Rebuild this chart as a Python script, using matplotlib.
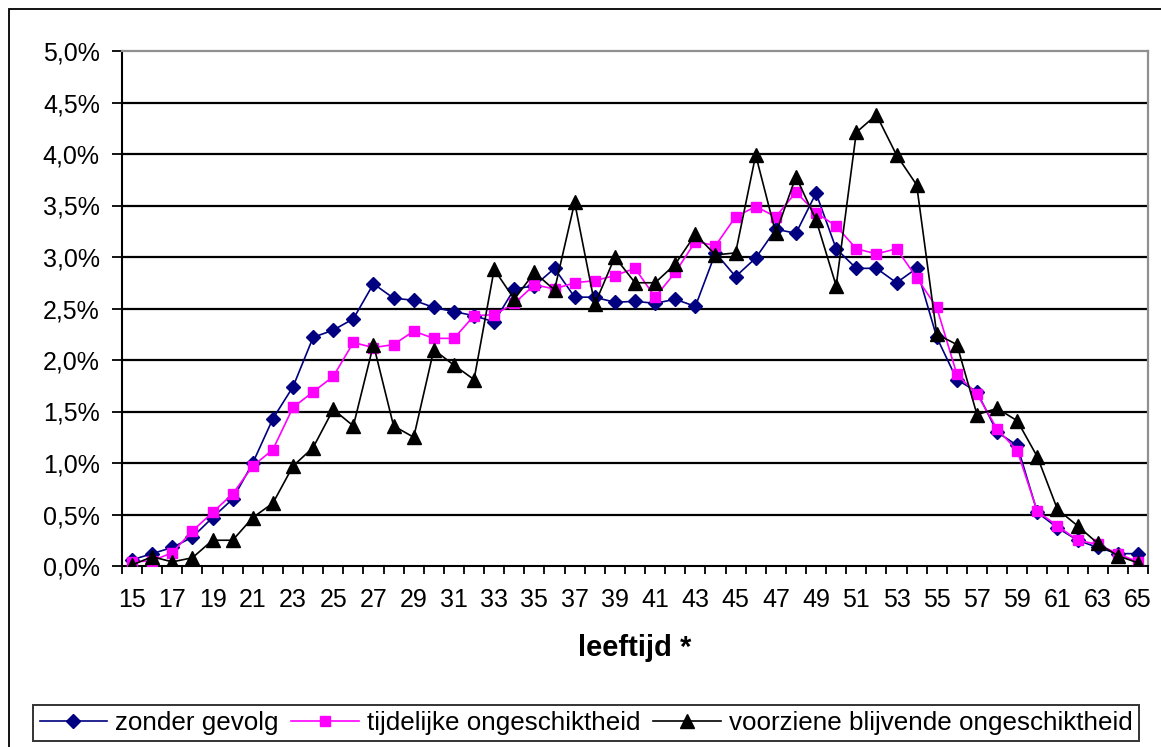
import numpy as np
import matplotlib
matplotlib.use("Agg")
import matplotlib.pyplot as plt
from matplotlib.patches import Rectangle
from matplotlib.lines import Line2D

plt.rcParams['font.family'] = ['Liberation Sans', 'DejaVu Sans']

# leeftijd 15..65
ages = list(range(15, 66))

zonder_gevolg = [0.06, 0.12, 0.18, 0.28, 0.47, 0.65, 1.00, 1.43, 1.74, 2.22,
                 2.29, 2.40, 2.74, 2.60, 2.58, 2.51, 2.47, 2.43, 2.37, 2.69,
                 2.72, 2.89, 2.61, 2.61, 2.56, 2.57, 2.55, 2.59, 2.52, 3.04,
                 2.81, 2.99, 3.27, 3.23, 3.62, 3.08, 2.89, 2.89, 2.75, 2.89,
                 2.22, 1.81, 1.69, 1.30, 1.17, 0.52, 0.37, 0.25, 0.18, 0.12,
                 0.12]

tijdelijk = [0.04, 0.05, 0.13, 0.34, 0.52, 0.70, 0.97, 1.13, 1.54, 1.69,
             1.84, 2.17, 2.12, 2.15, 2.28, 2.21, 2.21, 2.43, 2.44, 2.55,
             2.73, 2.69, 2.75, 2.77, 2.82, 2.89, 2.61, 2.85, 3.15, 3.11,
             3.39, 3.49, 3.39, 3.63, 3.43, 3.30, 3.08, 3.03, 3.08, 2.80,
             2.51, 1.86, 1.67, 1.33, 1.12, 0.53, 0.39, 0.25, 0.21, 0.12,
             0.04]

blijvend = [0.01, 0.09, 0.04, 0.08, 0.25, 0.25, 0.47, 0.61, 0.97, 1.15,
            1.52, 1.36, 2.15, 1.36, 1.25, 2.10, 1.95, 1.81, 2.88, 2.59,
            2.85, 2.68, 3.53, 2.54, 3.00, 2.75, 2.75, 2.93, 3.22, 3.02,
            3.04, 3.99, 3.23, 3.78, 3.36, 2.72, 4.21, 4.38, 3.99, 3.70,
            2.25, 2.15, 1.47, 1.53, 1.41, 1.06, 0.55, 0.39, 0.22, 0.10,
            0.03]

series_names = ["zonder gevolg", "tijdelijke ongeschiktheid",
                "voorziene blijvende ongeschiktheid"]
y_ticks = [0.0, 0.5, 1.0, 1.5, 2.0, 2.5, 3.0, 3.5, 4.0, 4.5, 5.0]
y_labels = ["0,0%", "0,5%", "1,0%", "1,5%", "2,0%", "2,5%", "3,0%", "3,5%",
            "4,0%", "4,5%", "5,0%"]
x_labels = [str(a) for a in range(15, 66, 2)]

fig = plt.figure(figsize=(11.61, 7.47), dpi=100)
ax = fig.add_axes([122 / 1161, 1 - 566 / 747, 1026 / 1161, 515 / 747])

# outer chart border (runs off the right/bottom edge)
fig.patches.append(Rectangle((9 / 1161, -0.1), 1.2, 0.988 + 0.1, transform=fig.transFigure,
                             fill=False, edgecolor='black', linewidth=1.3))

# horizontal gridlines
for y in y_ticks[1:-1]:
    ax.axhline(y, color='black', linewidth=1.6, zorder=1)

ax.plot(ages, zonder_gevolg, color='#000080', marker='D', markersize=7,
        linewidth=1.2, label=series_names[0], zorder=3)
ax.plot(ages, tijdelijk, color='#FF00FF', marker='s', markersize=7.5,
        linewidth=1.2, label=series_names[1], zorder=4)
ax.plot(ages, blijvend, color='black', marker='^', markersize=9.5,
        linewidth=1.2, label=series_names[2], zorder=5)

ax.set_xlim(14.5, 65.5)
ax.set_ylim(0, 5)
ax.set_yticks(y_ticks)
ax.set_yticklabels(y_labels)
ax.set_xticks(range(15, 66, 2))
ax.set_xticklabels(x_labels)
ax.set_xticks(np.arange(14.5, 66, 1), minor=True)
ax.tick_params(axis='x', which='major', length=0, pad=16, labelsize=18)
ax.tick_params(axis='x', which='minor', length=6, width=1.3, direction='out')
ax.tick_params(axis='y', length=7, width=1.3, direction='out', pad=9, labelsize=18)

for s in ['left', 'bottom']:
    ax.spines[s].set_color('black')
    ax.spines[s].set_linewidth(1.5)
for s in ['top', 'right']:
    ax.spines[s].set_color('#909090')
    ax.spines[s].set_linewidth(1.6)

ax.set_xlabel("leeftijd *", fontsize=21, fontweight='bold', labelpad=16)

handles = [Line2D([], [], color='#000080', marker='D', markersize=7, linewidth=1.2),
           Line2D([], [], color='#FF00FF', marker='s', markersize=7.5, linewidth=1.2),
           Line2D([], [], color='black', marker='^', markersize=9.5, linewidth=1.2)]
leg = fig.legend(handles, series_names, loc='center', ncol=3,
                 bbox_to_anchor=(586 / 1161, 1 - 723 / 747), fontsize=18.7,
                 frameon=True, fancybox=False, edgecolor='black',
                 handlelength=2.6, handletextpad=0.3, columnspacing=0.5,
                 borderpad=0.25, borderaxespad=0)
leg.get_frame().set_linewidth(1.4)

fig.savefig("out.png", dpi=100)
